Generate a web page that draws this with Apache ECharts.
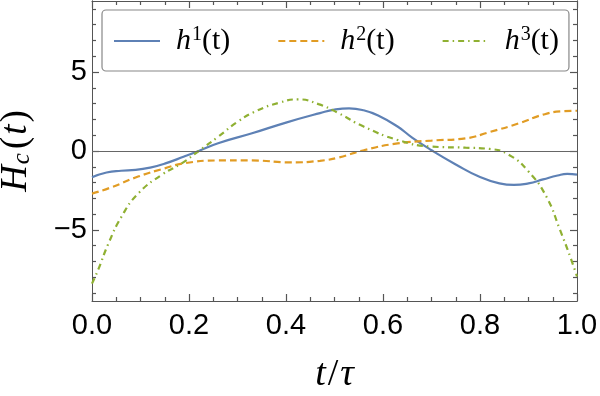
<!DOCTYPE html>
<html>
<head>
<meta charset="utf-8">
<script src="https://cdn.jsdelivr.net/npm/echarts@6/dist/echarts.min.js"></script>
<style>
  html, body { margin: 0; padding: 0; background: #fff; }
  #chart { width: 600px; height: 396px; }
</style>
</head>
<body>
<div id="chart"></div>
<script>
// t/tau sample positions and values
var t1 = [0, 0.03, 0.06, 0.09, 0.12, 0.15, 0.19, 0.22, 0.26, 0.33, 0.40, 0.47, 0.50, 0.53, 0.56, 0.59, 0.63, 0.66, 0.70, 0.75, 0.80, 0.84, 0.87, 0.90, 0.93, 0.96, 0.98, 1.0];
var h1 = [-1.66, -1.36, -1.25, -1.2, -1.05, -0.8, -0.35, 0.0, 0.49, 1.12, 1.8, 2.4, 2.62, 2.7, 2.58, 2.25, 1.55, 0.85, 0.05, -0.85, -1.65, -2.05, -2.15, -2.05, -1.8, -1.55, -1.45, -1.5];

var t2 = [0, 0.04, 0.095, 0.15, 0.19, 0.26, 0.33, 0.41, 0.47, 0.51, 0.56, 0.63, 0.70, 0.77, 0.82, 0.88, 0.93, 0.97, 1.0];
var h2 = [-2.7, -2.3, -1.62, -1.1, -0.78, -0.6, -0.6, -0.72, -0.62, -0.4, 0.05, 0.48, 0.66, 0.8, 1.2, 1.75, 2.3, 2.52, 2.55];

var t3 = [0, 0.013, 0.034, 0.061, 0.095, 0.144, 0.185, 0.22, 0.26, 0.30, 0.34, 0.385, 0.425, 0.467, 0.508, 0.56, 0.63, 0.70, 0.77, 0.82, 0.86, 0.90, 0.937, 0.965, 0.986, 1.0];
var h3 = [-8.4, -7.5, -5.85, -4.15, -2.7, -1.5, -0.78, 0.0, 0.9, 1.85, 2.55, 3.05, 3.27, 2.97, 2.4, 1.55, 0.7, 0.28, 0.21, 0.13, -0.25, -1.3, -2.9, -5.0, -6.7, -7.95];

var names = ['h1', 'h2', 'h3'];
var yMajor = [-5, 0, 5];
var yMinor = [-9, -8, -7, -6, -4, -3, -2, -1, 1, 2, 3, 4, 6, 7, 8, 9];

function pairs(ts, ys) {
  var out = [];
  for (var i = 0; i < ts.length; i++) out.push([ts[i], ys[i]]);
  return out;
}

var frameColor = '#555';
var serif = '"Liberation Serif", "DejaVu Serif", serif';
var sans = '"Liberation Sans", Arial, sans-serif';

var chart = echarts.init(document.getElementById('chart'));

function yAxisDef(pos, ticks, len, labels) {
  return {
    type: 'value',
    position: pos,
    min: -9.5,
    max: 9.5,
    axisLine: { show: true, onZero: false, lineStyle: { color: frameColor } },
    axisTick: { show: true, inside: true, length: len, customValues: ticks, lineStyle: { color: frameColor, width: 1.2 } },
    axisLabel: labels ? {
      show: true,
      customValues: yMajor,
      fontFamily: sans,
      fontSize: 29,
      color: '#000',
      margin: 5,
      formatter: function (v) { return v < 0 ? '\u2212' + (-v) : String(v); }
    } : { show: false },
    splitLine: { show: false }
  };
}

function xAxisDef(pos, labels) {
  var ax = {
    type: 'value',
    position: pos,
    min: 0,
    max: 1,
    interval: 0.2,
    axisLine: { show: true, onZero: false, lineStyle: { color: frameColor } },
    axisTick: { show: true, inside: true, length: 7, lineStyle: { color: frameColor, width: 1.2 } },
    minorTick: { show: true, splitNumber: 4, length: 4, lineStyle: { color: frameColor, width: 1.2 } },
    axisLabel: labels ? {
      show: true,
      fontFamily: sans,
      fontSize: 29,
      color: '#000',
      margin: 10,
      formatter: function (v) { return v.toFixed(1); }
    } : { show: false },
    splitLine: { show: false }
  };
  if (labels) {
    ax.name = '{i|t}{n|/}{i|\u03c4}';
    ax.nameLocation = 'middle';
    ax.nameGap = 55;
    ax.nameTextStyle = {
      rich: {
        i: { fontFamily: serif, fontStyle: 'italic', fontSize: 38, color: '#000' },
        n: { fontFamily: serif, fontSize: 38, color: '#000', padding: [0, 2, 0, 2] }
      }
    };
  }
  return ax;
}

var yLeft = yAxisDef('left', yMajor, 7, true);
yLeft.name = '{i|H}{sub|c}{n|(}{i|t}{n|)}';
yLeft.nameLocation = 'middle';
yLeft.nameRotate = 90;
yLeft.nameGap = 57;
yLeft.nameTextStyle = {
  rich: {
    i: { fontFamily: serif, fontStyle: 'italic', fontSize: 37, color: '#000', padding: [0, 1, 0, 1] },
    sub: { fontFamily: serif, fontStyle: 'italic', fontSize: 25, color: '#000', verticalAlign: 'bottom', padding: [12, 3, 0, 0] },
    n: { fontFamily: serif, fontSize: 37, color: '#000', padding: [0, 1, 0, 1] }
  }
};

var legendRich = {
  i: { fontFamily: serif, fontStyle: 'italic', fontSize: 30, color: '#000' },
  sup: { fontFamily: serif, fontSize: 20, color: '#000', verticalAlign: 'top', padding: [0, 0, 12, 1] },
  n: { fontFamily: serif, fontSize: 30, color: '#000' }
};

var option = {
  animation: false,
  grid: { left: 92, right: 23, top: 1, bottom: 95, outerBoundsMode: 'none' },
  legend: {
    left: 102,
    top: 10,
    orient: 'horizontal',
    data: names,
    itemWidth: 46,
    itemHeight: 14,
    itemGap: 47,
    padding: [15, 10, 15, 11],
    borderColor: '#888',
    borderWidth: 1.2,
    borderRadius: 4,
    backgroundColor: '#fff',
    itemStyle: { opacity: 0 },
    formatter: function (name) {
      var k = name.charAt(1);
      return '{i|h}{sup|' + k + '}{n|(t)}';
    },
    textStyle: { padding: [0, 0, 0, 11], rich: legendRich }
  },
  xAxis: [xAxisDef('bottom', true), xAxisDef('top', false)],
  yAxis: [
    yLeft,
    yAxisDef('left', yMinor, 4, false),
    yAxisDef('right', yMajor, 7, false),
    yAxisDef('right', yMinor, 4, false)
  ],
  series: [
    {
      name: names[0],
      type: 'line',
      data: pairs(t1, h1),
      smooth: 0.5,
      symbol: 'none',
      lineStyle: { color: '#5E81B5', width: 2.2 },
      itemStyle: { color: '#5E81B5' },
      markLine: {
        silent: true,
        symbol: ['none', 'none'],
        label: { show: false },
        lineStyle: { color: '#666', width: 1, type: 'solid' },
        data: [{ yAxis: 0 }]
      }
    },
    {
      name: names[1],
      type: 'line',
      data: pairs(t2, h2),
      smooth: 0.5,
      symbol: 'none',
      lineStyle: { color: '#E19C24', width: 2.2, type: [7, 4] },
      itemStyle: { color: '#E19C24' }
    },
    {
      name: names[2],
      type: 'line',
      data: pairs(t3, h3),
      smooth: 0.5,
      symbol: 'none',
      lineStyle: { color: '#8FB032', width: 2.2, type: [6, 4, 1.5, 4] },
      itemStyle: { color: '#8FB032' }
    }
  ]
};

chart.setOption(option);
</script>
</body>
</html>
